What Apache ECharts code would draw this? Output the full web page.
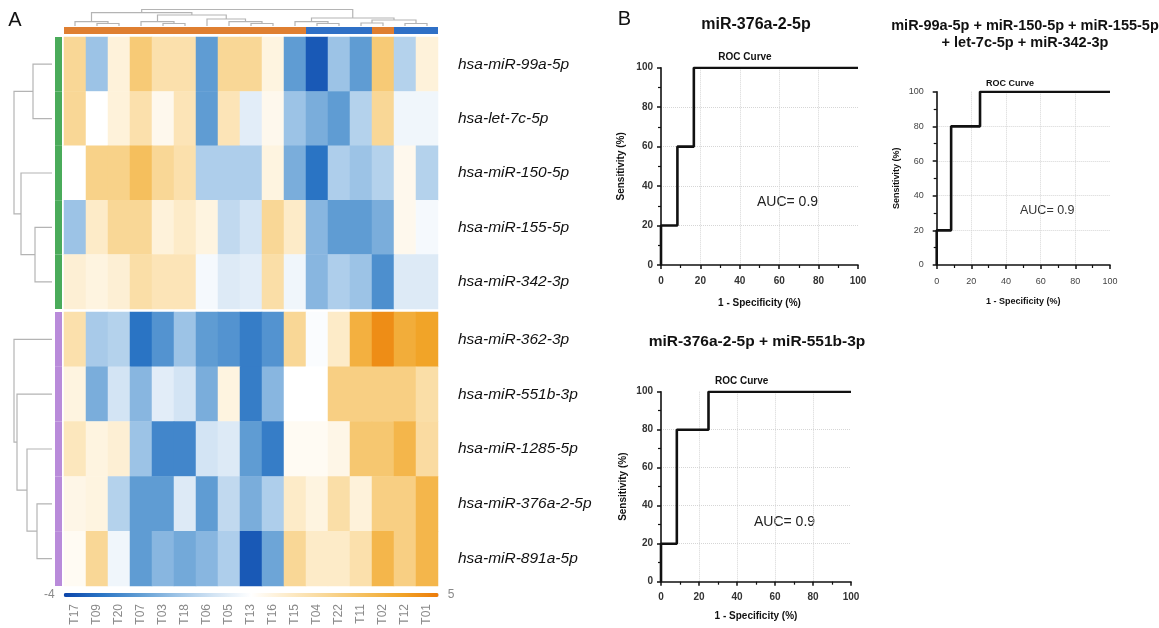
<!DOCTYPE html>
<html><head><meta charset="utf-8">
<script src="https://cdn.jsdelivr.net/npm/echarts@6/dist/echarts.min.js"></script>
<style>html,body{margin:0;padding:0;background:#fff}#c{width:1159px;height:628px}</style>
</head><body><div id="c"></div>
<script>
// ---------------- DATA ----------------
const samples = ['T17','T09','T20','T07','T03','T18','T06','T05','T13','T16','T15','T04','T22','T11','T02','T12','T01'];
const sampleGroup = ['g1','g1','g1','g1','g1','g1','g1','g1','g1','g1','g1','g2','g2','g2','g1','g2','g2'];
const mirsTop = ['hsa-miR-99a-5p','hsa-let-7c-5p','hsa-miR-150-5p','hsa-miR-155-5p','hsa-miR-342-3p'];
const mirsBottom = ['hsa-miR-362-3p','hsa-miR-551b-3p','hsa-miR-1285-5p','hsa-miR-376a-2-5p','hsa-miR-891a-5p'];
const rowGroupTop = ['c1','c1','c1','c1','c1'];
const rowGroupBottom = ['c2','c2','c2','c2','c2'];

const expr_miR99a   = [2.3,-1.3,1.1,2.8,1.9,1.9,-2.2,2.3,2.3,1.0,-2.2,-3.6,-1.3,-2.2,2.8,-0.9,1.1];
const expr_let7c    = [2.3,0.5,1.1,1.9,0.8,1.7,-2.2,1.7,-0.1,0.8,-1.3,-1.8,-2.2,-0.9,2.3,0.2,0.2];
const expr_miR150   = [0.5,2.5,2.5,3.2,2.3,1.9,-1.0,-1.0,-1.0,1.0,-1.8,-3.1,-1.0,-1.3,-0.9,0.8,-0.9];
const expr_miR155   = [-1.3,1.4,2.3,2.3,1.1,1.4,1.0,-0.7,-0.4,2.3,1.4,-1.6,-2.2,-2.2,-1.8,0.8,0.3];
const expr_miR342   = [1.2,1.0,1.2,2.0,1.7,1.7,0.3,-0.2,-0.1,2.0,0.2,-1.6,-1.0,-1.3,-2.5,-0.2,-0.2];
const expr_miR362   = [1.9,-1.1,-0.9,-3.1,-2.4,-1.3,-2.2,-2.4,-2.9,-2.4,2.3,0.4,1.4,3.7,4.6,3.8,4.1];
const expr_miR551b  = [1.0,-1.8,-0.4,-1.6,-0.1,-0.4,-1.8,1.0,-2.9,-1.6,0.5,0.5,2.6,2.6,2.6,2.6,2.0];
const expr_miR1285  = [1.6,1.0,1.2,-1.3,-2.7,-2.7,-0.4,-0.2,-2.2,-2.9,0.7,0.7,0.9,2.9,2.9,3.5,2.1];
const expr_miR376a2 = [0.9,1.0,-0.9,-2.2,-2.2,-0.2,-2.2,-0.7,-1.8,-1.0,1.4,1.0,2.0,1.1,2.6,2.6,3.5];
const expr_miR891a  = [0.7,2.3,0.2,-2.2,-1.6,-1.9,-1.6,-1.0,-3.6,-2.0,2.3,1.4,1.4,1.9,3.5,2.6,3.5];
const exprTop = [expr_miR99a, expr_let7c, expr_miR150, expr_miR155, expr_miR342];
const exprBottom = [expr_miR362, expr_miR551b, expr_miR1285, expr_miR376a2, expr_miR891a];
const colorScaleMin = -4, colorScaleMax = 5;

// dendrogram linkages: [childA, childB, height]; leaves 0..n-1 in display order, merges n, n+1, ...
const colLinkage = [[1,2,2.5],[0,17,4.3],[4,5,2.5],[3,19,4.3],[8,9,2.5],[7,21,4.3],[6,22,7],[20,23,11],[18,24,13.3],
                    [11,12,2.5],[10,26,4.3],[13,14,3],[15,16,2.5],[28,29,6],[27,30,8],[25,31,16.5]];
const rowLinkageTop = [[0,1,19],[3,4,17],[2,6,31],[5,7,38]];
const rowLinkageBottom = [[3,4,15],[2,5,25],[1,6,35],[0,7,38]];

// ROC curves (1 - specificity %, sensitivity %)
const roc1Fpr = [0,0,8.33,8.33,16.67,16.67,100];
const roc1Tpr = [0,20,20,60,60,100,100];
const roc2Fpr = [0,0,8.33,8.33,25,25,100];
const roc2Tpr = [0,20,20,80,80,100,100];
const roc3Fpr = [0,0,8.33,8.33,25,25,100];
const roc3Tpr = [0,20,20,80,80,100,100];
const rocTitles = ['miR-376a-2-5p', 'miR-99a-5p + miR-150-5p + miR-155-5p\n+ let-7c-5p + miR-342-3p', 'miR-376a-2-5p + miR-551b-3p'];
const aucText = ['AUC= 0.9','AUC= 0.9','AUC= 0.9'];

// ---------------- BUILD ----------------
const F = '"Liberation Sans", Arial, sans-serif';
const groupColor = {g1:'#df7f31', g2:'#2f70c6', c1:'#4aab5a', c2:'#b98bda'};
const dendroColor = '#b4b4b4';

function dendro(linkage, n) {
  const pos = [], h = [];
  for (let i = 0; i < n; i++) { pos.push(i + 0.5); h.push(0); }
  const segs = [];
  linkage.forEach(([a, b, ht]) => {
    segs.push([[pos[a], h[a]], [pos[a], ht], [pos[b], ht], [pos[b], h[b]]]);
    pos.push((pos[a] + pos[b]) / 2); h.push(ht);
  });
  return segs;
}
function heatData(rows) {
  const d = [];
  rows.forEach((r, y) => r.forEach((v, x) => d.push([x, y, v])));
  return d;
}

const grids = [
  {left:64, top:37, width:374, height:272},     // 0 heat top
  {left:64, top:312, width:374, height:274},    // 1 heat bottom
  {left:64, top:9.5, width:374, height:16.5},   // 2 col dendro
  {left:14, top:37, width:38, height:272},      // 3 row dendro top
  {left:14, top:312, width:38, height:274},     // 4 row dendro bottom
  {left:64, top:27, width:374, height:7},       // 5 col annotation
  {left:55, top:37, width:7, height:272},       // 6 row annot top
  {left:55, top:312, width:7, height:274},      // 7 row annot bottom
  {left:661, top:67.7, width:197, height:197.3},  // 8 roc1
  {left:936.7, top:91.7, width:173.3, height:173.3}, // 9 roc2
  {left:661, top:391.7, width:190, height:190}    // 10 roc3
];

const rowLabelStyle = {fontSize:15.5, fontStyle:'italic', color:'#111', fontFamily:F, margin:20};
const xAxes = [
  {gridIndex:0, type:'category', data:samples, show:false},
  {gridIndex:1, type:'category', data:samples, axisLine:{show:false}, axisTick:{show:false},
    axisLabel:{rotate:90, margin:18, fontSize:12, color:'#8a8a8a', fontFamily:F, interval:0}},
  {gridIndex:2, type:'value', min:0, max:samples.length, show:false},
  {gridIndex:3, type:'value', min:0, max:38, inverse:true, show:false},
  {gridIndex:4, type:'value', min:0, max:38, inverse:true, show:false},
  {gridIndex:5, type:'category', data:samples, show:false},
  {gridIndex:6, type:'value', min:0, max:1, show:false},
  {gridIndex:7, type:'value', min:0, max:1, show:false}
];
const yAxes = [
  {gridIndex:0, type:'category', data:mirsTop, inverse:true, position:'right', axisLine:{show:false}, axisTick:{show:false}, axisLabel:rowLabelStyle},
  {gridIndex:1, type:'category', data:mirsBottom, inverse:true, position:'right', axisLine:{show:false}, axisTick:{show:false}, axisLabel:rowLabelStyle},
  {gridIndex:2, type:'value', min:0, max:16.5, show:false},
  {gridIndex:3, type:'value', min:0, max:mirsTop.length, inverse:true, show:false},
  {gridIndex:4, type:'value', min:0, max:mirsBottom.length, inverse:true, show:false},
  {gridIndex:5, type:'value', min:0, max:1, show:false},
  {gridIndex:6, type:'category', data:mirsTop, inverse:true, show:false},
  {gridIndex:7, type:'category', data:mirsBottom, inverse:true, show:false}
];

function rocAxis(grid, fs, name, gap, margin, bold, labelColor) {
  return {
    gridIndex:grid, type:'value', min:0, max:100, interval:20,
    name:name, nameLocation:'middle', nameGap:gap,
    nameTextStyle:{fontWeight:'bold', fontSize:fs, color:'#111', fontFamily:F},
    axisLine:{show:true, lineStyle:{color:'#111', width:1.6}},
    axisTick:{show:true, length:4, lineStyle:{color:'#111', width:1.5}},
    minorTick:{show:true, splitNumber:2, length:3, lineStyle:{color:'#111', width:1.2}},
    axisLabel:{fontSize:fs, color:labelColor, fontFamily:F, margin:margin, fontWeight:bold ? 'bold' : 'normal'},
    splitLine:{show:true, showMinLine:false, showMaxLine:false, lineStyle:{color:'#d6d6d6', type:'dotted', width:1}}
  };
}
xAxes.push(rocAxis(8, 10, '1 - Specificity (%)', 33, 11, true, '#333'));
yAxes.push(rocAxis(8, 10, 'Sensitivity (%)', 35, 8, true, '#333'));
xAxes.push(rocAxis(9, 9, '1 - Specificity (%)', 32, 12, false, '#444'));
yAxes.push(rocAxis(9, 9, 'Sensitivity (%)', 36, 13, false, '#444'));
xAxes.push(rocAxis(10, 10, '1 - Specificity (%)', 30, 11, true, '#333'));
yAxes.push(rocAxis(10, 10, 'Sensitivity (%)', 33, 8, true, '#333'));

const series = [
  {type:'heatmap', xAxisIndex:0, yAxisIndex:0, data:heatData(exprTop), emphasis:{disabled:true}},
  {type:'heatmap', xAxisIndex:1, yAxisIndex:1, data:heatData(exprBottom), emphasis:{disabled:true}},
  {type:'lines', coordinateSystem:'cartesian2d', xAxisIndex:2, yAxisIndex:2, polyline:true, silent:true,
    lineStyle:{color:dendroColor, width:1.2, opacity:1},
    data:dendro(colLinkage, samples.length).map(s => ({coords:s}))},
  {type:'lines', coordinateSystem:'cartesian2d', xAxisIndex:3, yAxisIndex:3, polyline:true, silent:true,
    lineStyle:{color:dendroColor, width:1.2, opacity:1},
    data:dendro(rowLinkageTop, mirsTop.length).map(s => ({coords:s.map(p => [p[1], p[0]])}))},
  {type:'lines', coordinateSystem:'cartesian2d', xAxisIndex:4, yAxisIndex:4, polyline:true, silent:true,
    lineStyle:{color:dendroColor, width:1.2, opacity:1},
    data:dendro(rowLinkageBottom, mirsBottom.length).map(s => ({coords:s.map(p => [p[1], p[0]])}))},
  {type:'bar', xAxisIndex:5, yAxisIndex:5, barWidth:'100%', silent:true,
    data:sampleGroup.map(g => ({value:1, itemStyle:{color:groupColor[g]}}))},
  {type:'bar', xAxisIndex:6, yAxisIndex:6, barWidth:'100%', silent:true,
    data:rowGroupTop.map(g => ({value:1, itemStyle:{color:groupColor[g]}}))},
  {type:'bar', xAxisIndex:7, yAxisIndex:7, barWidth:'100%', silent:true,
    data:rowGroupBottom.map(g => ({value:1, itemStyle:{color:groupColor[g]}}))}
];
const rocs = [[roc1Fpr, roc1Tpr], [roc2Fpr, roc2Tpr], [roc3Fpr, roc3Tpr]];
rocs.forEach((r, i) => {
  series.push({type:'line', xAxisIndex:8 + i, yAxisIndex:8 + i, symbol:'none', silent:true,
    lineStyle:{color:'#111', width:2.6}, data:r[0].map((x, k) => [x, r[1][k]])});
});

function txt(x, y, s, size, weight, align, color) {
  return {type:'text', x:x, y:y, silent:true,
    style:{text:s, fontSize:size, fontWeight:weight || 'normal', fill:color || '#111', fontFamily:F,
      textAlign:align || 'center', textVerticalAlign:'middle', lineHeight:size + 2.5}};
}
const graphics = [
  txt(15, 20, 'A', 20),
  txt(624.5, 19, 'B', 20),
  txt(756, 25, rocTitles[0], 16, 'bold'),
  txt(745, 57, 'ROC Curve', 10, 'bold'),
  txt(757, 202, aucText[0], 14, 'normal', 'left', '#222'),
  txt(1025, 34.5, rocTitles[1], 14.5, 'bold'),
  txt(1010, 83.3, 'ROC Curve', 9, 'bold'),
  txt(1020, 211, aucText[1], 12.5, 'normal', 'left', '#333'),
  txt(757, 341.7, rocTitles[2], 15.5, 'bold'),
  txt(741.7, 381.7, 'ROC Curve', 10, 'bold'),
  txt(754, 522, aucText[2], 14, 'normal', 'left', '#222')
];

const chart = echarts.init(document.getElementById('c'), null, {renderer:'canvas'});
chart.setOption({
  animation:false,
  backgroundColor:'#fff',
  grid:grids,
  xAxis:xAxes,
  yAxis:yAxes,
  visualMap:{
    type:'continuous', seriesIndex:[0,1], min:colorScaleMin, max:colorScaleMax, calculable:false,
    orient:'horizontal', left:29, top:574, itemWidth:4, itemHeight:375, text:[String(colorScaleMax), String(colorScaleMin)],
    textGap:9, textStyle:{color:'#8a8a8a', fontSize:12, fontFamily:F},
    inRange:{color:['#0b44aa','#2a74c4','#5f9cd3','#9cc3e6','#d3e4f4','#ffffff','#fdebc8','#f9d796','#f5bf5d','#f1a428','#ec7a08']}
  },
  series:series,
  graphic:graphics
});
</script></body></html>
